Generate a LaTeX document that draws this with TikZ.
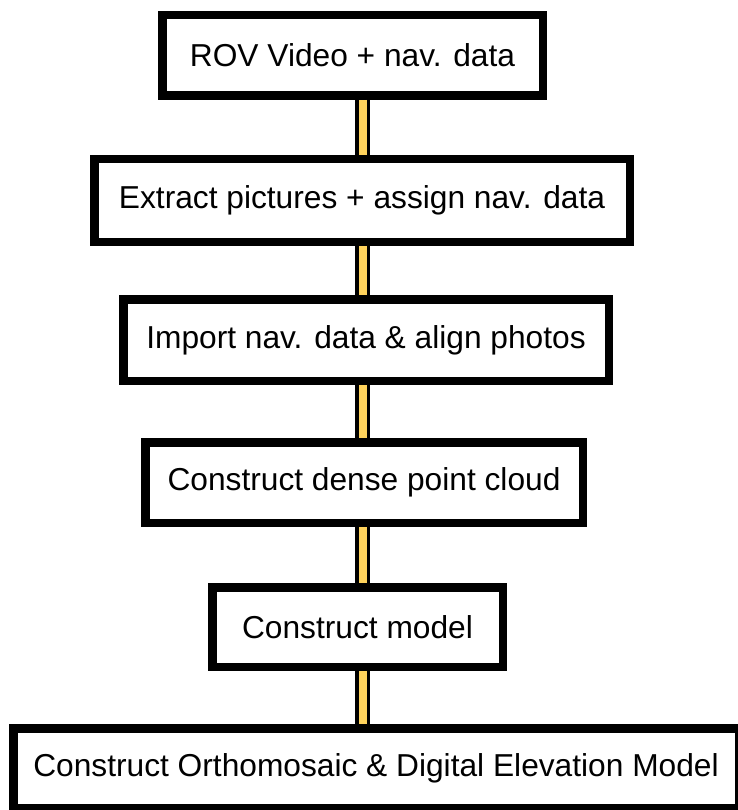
\documentclass[tikz,border=0pt]{standalone}
\usepackage{fontspec}
\setmainfont{Liberation Sans}
\usetikzlibrary{positioning}
\definecolor{barfill}{RGB}{255,211,92}

\begin{document}
\begin{tikzpicture}[x=1pt, y=-1pt,
  box/.style={rectangle, draw, line width=8.5pt, fill=white, inner sep=0pt,
              font=\fontsize{31.7}{38}\selectfont, text=black},
  bar/.style={draw=black, line width=3.5pt, double=barfill, double distance=8pt}
]
  \useasboundingbox (0,0) rectangle (737,810);
  \coordinate (spine) at (362.5,0);

  \node[box, minimum width=380.5pt, minimum height=80.5pt] (rov) at (352.5,55.5) {ROV Video + nav. data};
  \node[box, minimum width=535.5pt, minimum height=82.5pt] (extract) at (362,200.5) {Extract pictures + assign nav. data};
  \node[box, minimum width=485.5pt, minimum height=81.5pt] (import) at (366,340) {Import nav. data \& align photos};
  \node[box, minimum width=437.5pt, minimum height=80.5pt] (dense) at (364,482.5) {Construct dense point cloud};
  \node[box, minimum width=290.5pt, minimum height=79.5pt] (model) at (357.5,627) {Construct model};
  \node[box, minimum width=725.5pt, minimum height=79.5pt] (ortho) at (376,768) {Construct Orthomosaic \& Digital Elevation Model};

  \draw[bar] (rov.south -| spine) -- (extract.north -| spine);
  \draw[bar] (extract.south -| spine) -- (import.north -| spine);
  \draw[bar] (import.south -| spine) -- (dense.north -| spine);
  \draw[bar] (dense.south -| spine) -- (model.north -| spine);
  \draw[bar] (model.south -| spine) -- (ortho.north -| spine);
\end{tikzpicture}
\end{document}
